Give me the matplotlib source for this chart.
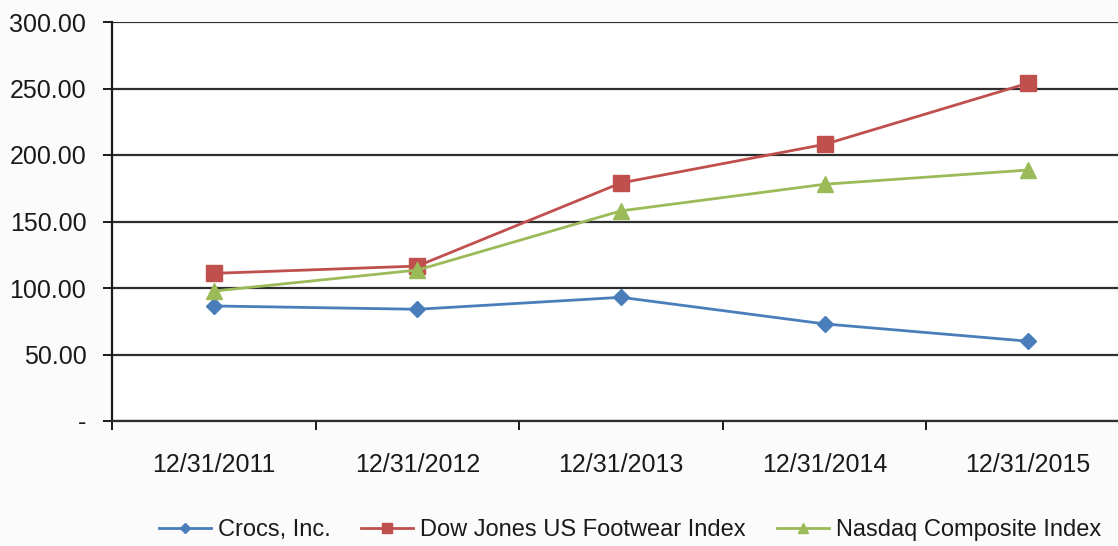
import matplotlib.pyplot as plt
from matplotlib.ticker import FixedLocator

# data
dates = ["12/31/2011", "12/31/2012", "12/31/2013", "12/31/2014", "12/31/2015"]
crocs = [86.5, 84.0, 93.0, 73.0, 60.0]
dow_jones_footwear = [111.0, 116.5, 179.0, 208.0, 254.0]
nasdaq_composite = [97.7, 113.5, 158.0, 178.0, 188.7]

y_ticks = [0, 50, 100, 150, 200, 250, 300]
y_labels = ["-", "50.00", "100.00", "150.00", "200.00", "250.00", "300.00"]

plt.rcParams["font.family"] = ["Liberation Sans", "DejaVu Sans"]

W, H = 1118, 546
fig = plt.figure(figsize=(W / 100, H / 100), dpi=100, facecolor="#fbfbfb")
ax = fig.add_axes([112 / W, 125 / H, (1130 - 112) / W, 399 / H])
ax.set_facecolor("white")

x = list(range(len(dates)))
ax.plot(x, crocs, color="#4a7ebb", lw=2.0, marker="D", ms=8,
        label="Crocs, Inc.", zorder=3)
ax.plot(x, dow_jones_footwear, color="#c0504d", lw=2.0, marker="s", ms=11,
        label="Dow Jones US Footwear Index", zorder=3)
ax.plot(x, nasdaq_composite, color="#9bbb59", lw=2.0, marker="^", ms=11,
        label="Nasdaq Composite Index", zorder=3)

ax.set_xlim(-0.5, len(dates) - 0.5)
ax.set_ylim(0, 300)

ax.set_yticks(y_ticks)
ax.set_yticklabels(y_labels, fontsize=18, color="#1a1a1a")
ax.yaxis.grid(True, color="#2e2e2e", lw=1.6, zorder=1)
ax.set_axisbelow(True)
ax.tick_params(axis="y", direction="out", length=6.5, width=1.4,
               pad=12, color="#1a1a1a")

ax.set_xticks(x)
ax.set_xticklabels(dates, fontsize=18, color="#1a1a1a")
ax.xaxis.set_minor_locator(FixedLocator([i - 0.5 for i in range(len(dates) + 1)]))
ax.tick_params(axis="x", which="major", length=0, pad=23)
ax.tick_params(axis="x", which="minor", direction="out", length=6.5,
               width=1.4, color="#1a1a1a")

for side in ("top", "right"):
    ax.spines[side].set_visible(False)
ax.spines["left"].set_color("#1a1a1a")
ax.spines["left"].set_linewidth(1.6)
ax.spines["bottom"].set_color("#2e2e2e")
ax.spines["bottom"].set_linewidth(1.6)

leg = fig.legend(loc="center", bbox_to_anchor=(630 / W, 1 - 530 / H),
                 ncol=3, frameon=False, fontsize=17, handlelength=2.2,
                 handletextpad=0.3, columnspacing=1.3, markerscale=0.7)
for t in leg.get_texts():
    t.set_color("#1a1a1a")

fig.savefig("out.png", dpi=100, facecolor=fig.get_facecolor())
